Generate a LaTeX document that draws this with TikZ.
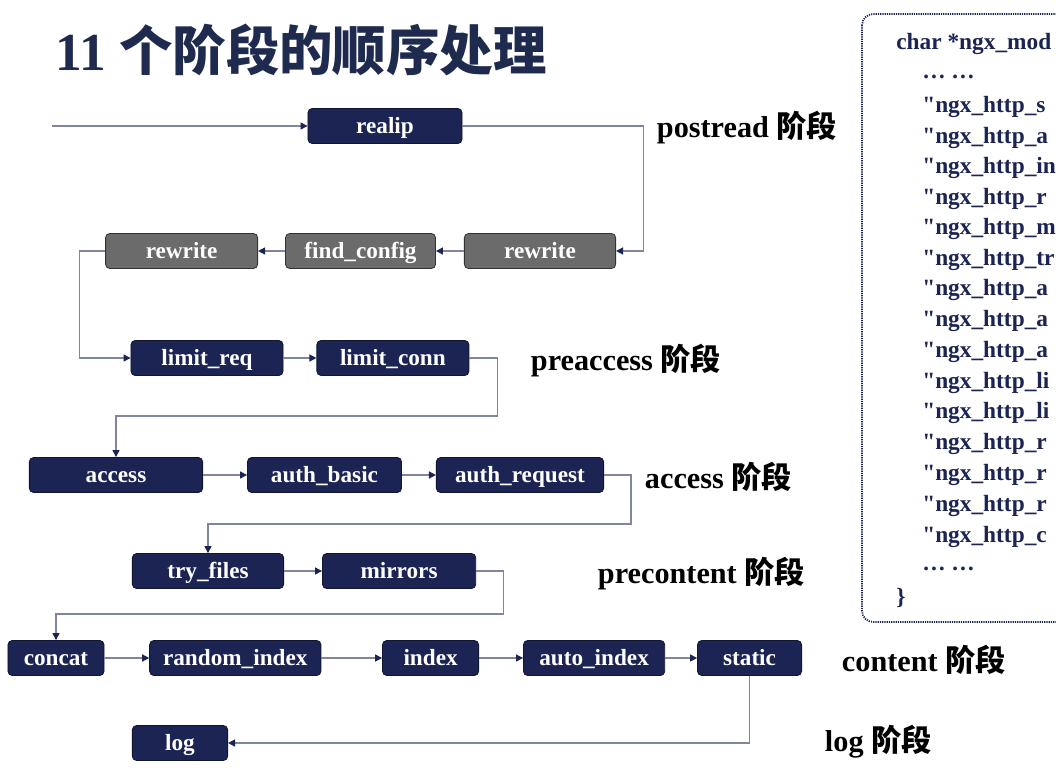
\documentclass[tikz,border=0pt]{standalone}
\usepackage{fontspec}
\setmainfont{Liberation Serif}
\newfontfamily\cjk{Noto Sans CJK SC}
\usepackage{xcolor}
\usepackage{tikz}
\usetikzlibrary{arrows.meta,positioning,calc}
\definecolor{DeepNavy}{HTML}{1B2452}
\definecolor{NavyEdge}{HTML}{111733}
\definecolor{StepGray}{HTML}{6B6B6B}
\definecolor{GrayEdge}{HTML}{333333}
\definecolor{LinkGray}{HTML}{7F869E}
\definecolor{TitleNavy}{HTML}{1F2A4F}
\tikzset{
  % Base box
  SB/.style={rectangle,rounded corners=3pt,
             minimum height=0.875cm,inner sep=2pt,
             text height=13pt,text depth=2pt,
             text centered,draw,line width=0.6pt,
             font=\fontsize{16.5}{18}\selectfont\bfseries,text=white},
  % Colour variants
  sN/.style={SB,fill=DeepNavy,draw=NavyEdge},
  sG/.style={SB,fill=StepGray,draw=GrayEdge},
  % Arrow
  arr/.style={-{Triangle[length=5pt,width=5pt,color=DeepNavy]},
              draw=LinkGray,line width=0.9pt},
  % Phase labels
  PL/.style={anchor=west,font=\fontsize{21.5}{24}\selectfont\bfseries},
  % Code lines
  CL/.style={anchor=west,text=DeepNavy,inner sep=0pt,
             font=\fontsize{16.6}{18}\selectfont\bfseries}
}
\newcommand{\stagelbl}[1]{#1 {\cjk 阶段}}
\begin{document}
\begin{tikzpicture}[x=0.025cm,y=-0.025cm]
  \clip (0,0) rectangle (1056,782);
  \fill[white] (0,0) rectangle (1056,782);

  % title
  \node[anchor=west,inner sep=0pt,text=TitleNavy,
        font=\fontsize{38}{42}\selectfont\bfseries] (title) at (55,50)
    {11 {\cjk 个阶段的顺序处理}};

  % postread
  \coordinate (entry) at (52,126);
  \node[sN,minimum width=3.85cm] (realip) at (385,126) {realip};
  % rewrite / find_config
  \node[sG,minimum width=3.78cm] (rwA) at (540,251) {rewrite};
  \node[sG,minimum width=3.75cm,left=0.7cm of rwA] (findcfg) {find\_config};
  \node[sG,minimum width=3.8cm,left=0.675cm of findcfg] (rwB) {rewrite};
  % preaccess
  \node[sN,minimum width=3.8cm] (limreq) at (207,358) {limit\_req};
  \node[sN,minimum width=3.8cm,right=0.825cm of limreq] (limconn) {limit\_conn};
  % access
  \node[sN,minimum width=4.33cm] (access) at (116,475) {access};
  \node[sN,minimum width=3.85cm,right=1.1cm of access] (authbasic) {auth\_basic};
  \node[sN,minimum width=4.18cm,right=0.85cm of authbasic] (authreq) {auth\_request};
  % precontent
  \node[sN,minimum width=3.78cm] (tryfiles) at (208,571) {try\_files};
  \node[sN,minimum width=3.83cm,right=0.95cm of tryfiles] (mirrors) {mirrors};
  % content
  \node[sN,minimum width=2.4cm] (concat) at (56,658) {concat};
  \node[sN,minimum width=4.28cm,right=1.12cm of concat] (randidx) {random\_index};
  \node[sN,minimum width=2.4cm,right=1.52cm of randidx] (index) {index};
  \node[sN,minimum width=3.53cm,right=1.1cm of index] (autoidx) {auto\_index};
  \node[sN,minimum width=2.6cm,right=0.8cm of autoidx] (static) {static};
  % log
  \node[sN,minimum width=2.38cm] (log) at (180,743) {log};

  % phase labels
  \node[PL] (lpost) at (652,128) {\stagelbl{postread}};
  \node[PL] (lpre)  at (526,361) {\stagelbl{preaccess}};
  \node[PL] (lacc)  at (640,477) {\stagelbl{access}};
  \node[PL] (lprec) at (593,574) {\stagelbl{precontent}};
  \node[PL] (lcont) at (837,660) {\stagelbl{content}};
  \node[PL] (llog)  at (820,742) {\stagelbl{log}};

  % connectors
  \draw[arr] (entry) -- (realip.west);
  \draw[arr] (realip.east) -- ++(181,0) |- (rwA.east);
  \draw[arr] (rwA) -- (findcfg);
  \draw[arr] (findcfg) -- (rwB);
  \draw[arr] (rwB.west) -- ++(-26,0) |- (limreq.west);
  \draw[arr] (limreq) -- (limconn);
  \draw[arr] (limconn.east) -- ++(28,0) -- ++(0,58) -| (access.north);
  \draw[arr] (access) -- (authbasic);
  \draw[arr] (authbasic) -- (authreq);
  \draw[arr] (authreq.east) -- ++(27,0) -- ++(0,49) -| (tryfiles.north);
  \draw[arr] (tryfiles) -- (mirrors);
  \draw[arr] (mirrors.east) -- ++(27,0) -- ++(0,43) -| (concat.north);
  \draw[arr] (concat) -- (randidx);
  \draw[arr] (randidx) -- (index);
  \draw[arr] (index) -- (autoidx);
  \draw[arr] (autoidx) -- (static);
  \draw[arr] (static.south) |- (log.east);

  % module list
  \draw[DeepNavy,line width=1.3pt,dash pattern=on 0.8pt off 0.8pt,
        rounded corners=8pt] (862,14) rectangle (1090,622);
  \node[CL] (chead) at (896,44) {char *ngx\_mod};
  \node[CL] (dotsA) at (922,77) {… …};
  \foreach \yy/\txt in {107/s,138/a,168/in,199/r,229/m,260/tr,290/a,
                        321/a,352/a,383/li,413/li,444/r,475/r,506/r,537/c}
    \node[CL] at (922,\yy) {\textquotedbl ngx\_http\_\txt};
  \node[CL] (dotsB) at (922,569) {… …};
  \node[CL] (cend) at (896,598) {\}};
\end{tikzpicture}
\end{document}
